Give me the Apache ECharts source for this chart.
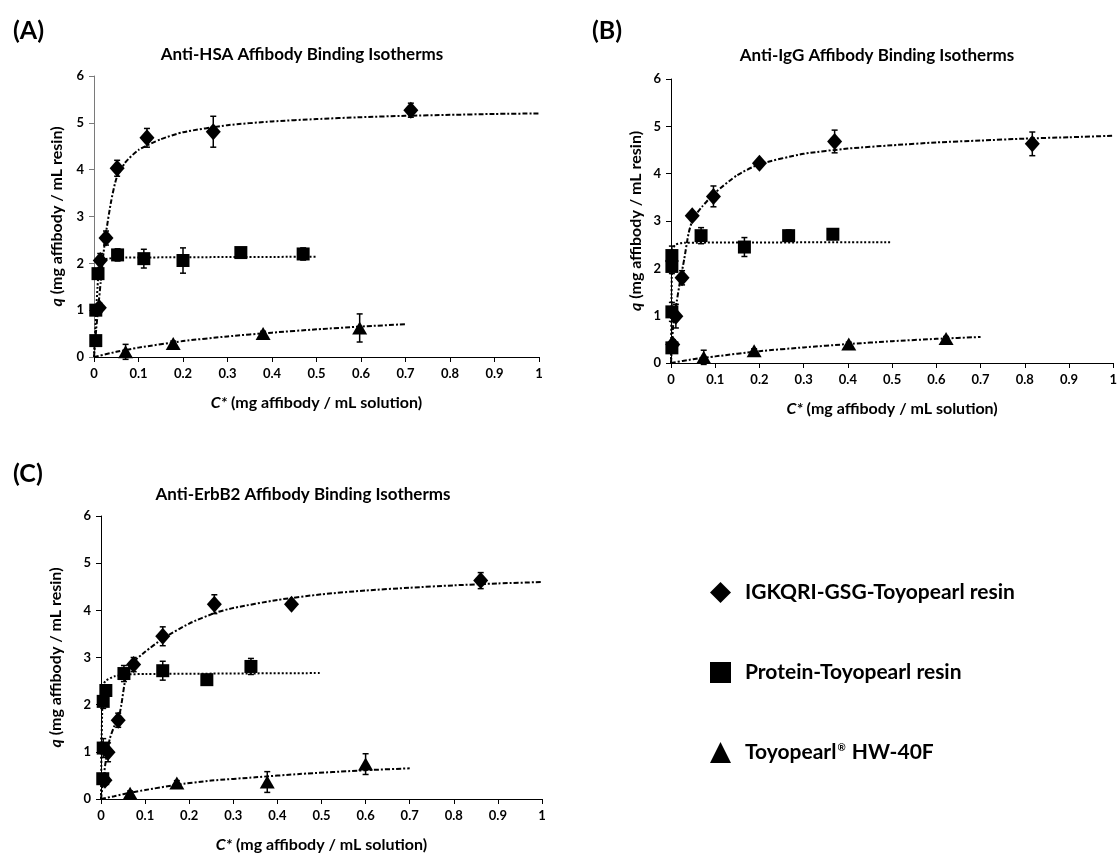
<!DOCTYPE html>
<html lang="en">
  <head>
    <meta charset="UTF-8" />
    <title>Affibody Binding Isotherms</title>
    <script src="https://cdn.jsdelivr.net/npm/echarts@6/dist/echarts.min.js"></script>
    <style>
      html, body { margin: 0; padding: 0; background: #fff; }
      #main { width: 1120px; height: 854px; }
    </style>
  </head>
  <body>
    <div id="main"></div>

    <script>
      // [C*, q, error]
      var hsaIgk = [[0.012, 1.05, 0.1], [0.014, 2.06, 0.15], [0.027, 2.54, 0.15], [0.052, 4.03, 0.17], [0.119, 4.68, 0.2], [0.268, 4.81, 0.33], [0.712, 5.27, 0.15]];
      var hsaProt = [[0.004, 0.35, 0.1], [0.004, 1.0, 0.1], [0.009, 1.78, 0.1], [0.053, 2.18, 0.13], [0.112, 2.1, 0.2], [0.2, 2.06, 0.27], [0.33, 2.23, 0.05], [0.47, 2.2, 0.13]];
      var hsaHw = [[0.071, 0.11, 0.16], [0.178, 0.29, 0.05], [0.38, 0.5, 0.05], [0.597, 0.62, 0.3]];

      var iggIgk = [[0.004, 0.39, 0.1], [0.011, 0.99, 0.25], [0.025, 1.8, 0.15], [0.048, 3.11, 0.05], [0.096, 3.52, 0.22], [0.2, 4.22, 0.05], [0.37, 4.68, 0.24], [0.817, 4.63, 0.25]];
      var iggProt = [[0.002, 0.32, 0.1], [0.002, 1.08, 0.2], [0.002, 2.04, 0.15], [0.002, 2.27, 0.2], [0.068, 2.69, 0.17], [0.166, 2.45, 0.2], [0.266, 2.69, 0.12], [0.366, 2.72, 0.1]];
      var iggHw = [[0.074, 0.12, 0.15], [0.188, 0.26, 0.04], [0.402, 0.4, 0.04], [0.622, 0.52, 0.04]];

      var erbIgk = [[0.009, 0.4, 0.1], [0.016, 0.99, 0.2], [0.039, 1.67, 0.15], [0.074, 2.85, 0.15], [0.14, 3.45, 0.2], [0.257, 4.13, 0.2], [0.432, 4.13, 0.05], [0.861, 4.63, 0.17]];
      var erbProt = [[0.004, 0.43, 0.1], [0.005, 1.08, 0.2], [0.005, 2.07, 0.15], [0.011, 2.3, 0.1], [0.052, 2.66, 0.17], [0.14, 2.72, 0.2], [0.24, 2.53, 0.05], [0.34, 2.81, 0.17]];
      var erbHw = [[0.066, 0.12, 0.05], [0.172, 0.34, 0.05], [0.377, 0.36, 0.22], [0.6, 0.74, 0.22]];

      // fitted isotherm curves
      var hsaIgkFit = [[0, 0], [0.005, 0.6], [0.01, 1.1], [0.015, 1.6], [0.02, 2.1], [0.027, 2.65], [0.038, 3.3], [0.05, 3.8], [0.07, 4.15], [0.1, 4.42], [0.15, 4.65], [0.2, 4.8], [0.3, 4.95], [0.4, 5.03], [0.5, 5.08], [0.6, 5.12], [0.7, 5.15], [0.8, 5.17], [0.9, 5.19], [1.0, 5.2]];
      var hsaProtFit = [[0, 0], [0.003, 0.6], [0.005, 1.0], [0.008, 1.5], [0.012, 1.9], [0.025, 2.08], [0.05, 2.12], [0.5, 2.14]];
      var hsaHwFit = [[0, 0], [0.05, 0.11], [0.1, 0.2], [0.2, 0.34], [0.3, 0.44], [0.4, 0.52], [0.5, 0.59], [0.6, 0.65], [0.7, 0.7]];

      var iggIgkFit = [[0, 0], [0.005, 0.8], [0.013, 1.3], [0.02, 1.7], [0.03, 2.2], [0.04, 2.75], [0.05, 3.05], [0.07, 3.3], [0.1, 3.6], [0.15, 3.97], [0.2, 4.2], [0.3, 4.42], [0.4, 4.53], [0.5, 4.6], [0.6, 4.66], [0.7, 4.7], [0.8, 4.74], [0.9, 4.77], [1.0, 4.8]];
      var iggProtFit = [[0, 0], [0.001, 1.2], [0.002, 2.0], [0.004, 2.4], [0.01, 2.5], [0.03, 2.54], [0.5, 2.55]];
      var iggHwFit = [[0, 0], [0.05, 0.08], [0.1, 0.14], [0.2, 0.25], [0.3, 0.33], [0.4, 0.4], [0.5, 0.46], [0.6, 0.51], [0.7, 0.55]];

      var erbIgkFit = [[0, 0], [0.005, 0.39], [0.011, 0.82], [0.02, 1.28], [0.031, 1.56], [0.039, 1.67], [0.046, 1.99], [0.057, 2.62], [0.072, 2.89], [0.1, 3.12], [0.14, 3.4], [0.2, 3.72], [0.26, 3.95], [0.3, 4.05], [0.4, 4.22], [0.5, 4.34], [0.6, 4.42], [0.7, 4.48], [0.8, 4.53], [0.9, 4.57], [1.0, 4.6]];
      var erbProtFit = [[0, 0], [0.001, 1.0], [0.003, 2.0], [0.005, 2.4], [0.01, 2.5], [0.03, 2.6], [0.06, 2.64], [0.1, 2.65], [0.5, 2.67]];
      var erbHwFit = [[0, 0], [0.03, 0.06], [0.07, 0.14], [0.1, 0.19], [0.17, 0.3], [0.25, 0.39], [0.35, 0.46], [0.45, 0.53], [0.6, 0.61], [0.7, 0.65]];

      var panelTitles = ["Anti-HSA Affibody Binding Isotherms", "Anti-IgG Affibody Binding Isotherms", "Anti-ErbB2 Affibody Binding Isotherms"];
      var panelLetters = ["(A)", "(B)", "(C)"];
      var seriesNames = ["IGKQRI-GSG-Toyopearl resin", "Protein-Toyopearl resin", "Toyopearl® HW-40F"];

      var FONT = "Lato, 'Open Sans', sans-serif";
      var chart = echarts.init(document.getElementById("main"));

      var grids = [
        { left: 94, top: 76, width: 445, height: 281 },
        { left: 671, top: 79, width: 447, height: 284 },
        { left: 101, top: 516, width: 441, height: 283 },
      ];
      var yNameGaps = [29, 27, 37];
      var yAxisColors = ["#7a7a7a", "#000", "#000"];

      var xAxes = grids.map(function (g, i) {
        return {
          type: "value", gridIndex: i, min: 0, max: 1, interval: 0.1,
          name: "{i|C*} (mg affibody / mL solution)",
          nameLocation: "middle", nameGap: 38,
          nameTextStyle: {
            fontFamily: FONT, fontWeight: "bold", fontSize: 16, color: "#000",
            rich: { i: { fontFamily: FONT, fontWeight: "bold", fontStyle: "italic", fontSize: 16, color: "#000" } },
          },
          axisLine: { lineStyle: { color: "#000", width: 1 } },
          axisTick: { show: true, length: 5, lineStyle: { color: "#000" } },
          axisLabel: {
            fontFamily: FONT, fontWeight: "bold", fontSize: 13, color: "#000", margin: 10,
            formatter: function (v) { return String(+v.toFixed(1)); },
          },
          splitLine: { show: false },
        };
      });

      var yAxes = grids.map(function (g, i) {
        return {
          type: "value", gridIndex: i, min: 0, max: 6, interval: 1,
          name: "{i|q} (mg affibody / mL resin)",
          nameLocation: "middle", nameGap: yNameGaps[i], nameRotate: 90,
          nameTextStyle: {
            fontFamily: FONT, fontWeight: "bold", fontSize: 16, color: "#000",
            rich: { i: { fontFamily: FONT, fontWeight: "bold", fontStyle: "italic", fontSize: 16, color: "#000" } },
          },
          axisLine: { show: true, lineStyle: { color: yAxisColors[i], width: 1 } },
          axisTick: { show: true, length: 5, lineStyle: { color: yAxisColors[i] } },
          axisLabel: { fontFamily: FONT, fontWeight: "bold", fontSize: 13, color: "#000", margin: 10 },
          splitLine: { show: false },
        };
      });

      function markers(name, data, idx, symbol, size) {
        return {
          type: "scatter", name: name, xAxisIndex: idx, yAxisIndex: idx,
          data: data.map(function (d) { return [d[0], d[1]]; }),
          symbol: symbol, symbolSize: size,
          itemStyle: { color: "#000", opacity: 1 },
          z: 5, silent: true,
        };
      }

      function fit(name, data, idx, dash) {
        return {
          type: "line", name: name + " fit", xAxisIndex: idx, yAxisIndex: idx,
          data: data, symbol: "none", smooth: 0.2,
          lineStyle: { color: "#000", width: 2, type: dash },
          z: 3, silent: true,
        };
      }

      function errorBars(data, idx) {
        return {
          type: "custom", xAxisIndex: idx, yAxisIndex: idx, z: 4, silent: true,
          data: data,
          renderItem: function (params, api) {
            var x = api.value(0), y = api.value(1), e = api.value(2);
            var top = api.coord([x, y + e]);
            var bot = api.coord([x, y - e]);
            var st = { stroke: "#000", lineWidth: 1.5 };
            return {
              type: "group",
              children: [
                { type: "line", shape: { x1: top[0], y1: top[1], x2: bot[0], y2: bot[1] }, style: st },
                { type: "line", shape: { x1: top[0] - 3, y1: top[1], x2: top[0] + 3, y2: top[1] }, style: st },
                { type: "line", shape: { x1: bot[0] - 3, y1: bot[1], x2: bot[0] + 3, y2: bot[1] }, style: st },
              ],
            };
          },
        };
      }

      var panels = [
        [hsaIgk, hsaProt, hsaHw, hsaIgkFit, hsaProtFit, hsaHwFit],
        [iggIgk, iggProt, iggHw, iggIgkFit, iggProtFit, iggHwFit],
        [erbIgk, erbProt, erbHw, erbIgkFit, erbProtFit, erbHwFit],
      ];

      var dashFit = [5, 2, 2, 2];
      var dotFit = [2, 2];
      var series = [];
      panels.forEach(function (p, i) {
        series.push(fit(seriesNames[0], p[3], i, dashFit));
        series.push(fit(seriesNames[1], p[4], i, dotFit));
        series.push(fit(seriesNames[2], p[5], i, dashFit));
        series.push(errorBars(p[0], i));
        series.push(errorBars(p[1], i));
        series.push(errorBars(p[2], i));
        series.push(markers(seriesNames[0], p[0], i, "diamond", [15, 17]));
        series.push(markers(seriesNames[1], p[1], i, "rect", 13));
        series.push(markers(seriesNames[2], p[2], i, "triangle", [15, 13]));
      });

      var titleCenters = [[297, 41], [872, 42], [298, 481]];
      var letterPos = [[8, 13], [587, 13], [8, 456]];
      var titles = [];
      panelTitles.forEach(function (t, i) {
        titles.push({
          text: t, left: titleCenters[i][0], top: titleCenters[i][1], textAlign: "center",
          textStyle: { fontFamily: FONT, fontWeight: "bold", fontSize: 17, color: "#000" },
        });
        titles.push({
          text: panelLetters[i], left: letterPos[i][0], top: letterPos[i][1],
          textStyle: { fontFamily: FONT, fontWeight: "bold", fontSize: 25, color: "#000" },
        });
      });

      var option = {
        backgroundColor: "#fff",
        animation: false,
        title: titles,
        grid: grids,
        xAxis: xAxes,
        yAxis: yAxes,
        legend: {
          orient: "vertical", left: 705, top: 577, itemGap: 59,
          itemWidth: 21, itemHeight: 21, selectedMode: false,
          data: [
            { name: seriesNames[0], icon: "diamond" },
            { name: seriesNames[1], icon: "rect" },
            { name: seriesNames[2], icon: "triangle" },
          ],
          formatter: function (n) {
            if (n === seriesNames[2]) return "{t|Toyopearl}{s|®}{t| HW-40F}";
            return "{t|" + n + "}";
          },
          textStyle: {
            fontFamily: FONT, fontWeight: "bold", fontSize: 21, color: "#000",
            padding: [0, 0, 0, 9],
            rich: {
              t: { fontFamily: FONT, fontWeight: "bold", fontSize: 21, color: "#000" },
              s: { fontFamily: FONT, fontWeight: "bold", fontSize: 10, color: "#000", padding: [0, 1, 10, 1] },
            },
          },
        },
        series: series,
      };

      chart.setOption(option);
    </script>
  </body>
</html>
